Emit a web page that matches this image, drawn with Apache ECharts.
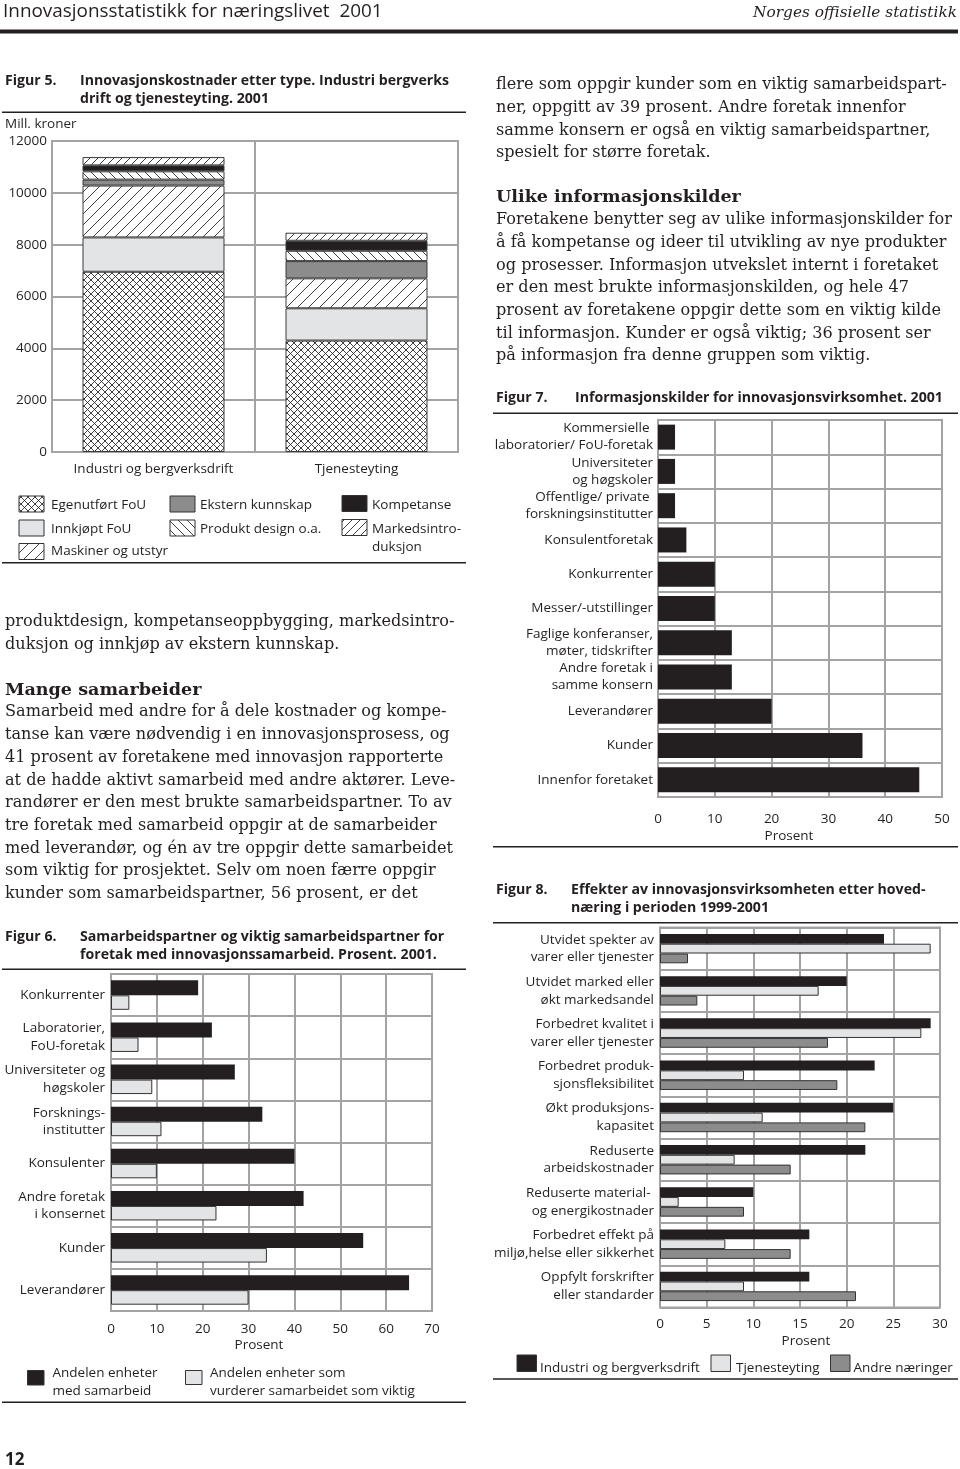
<!DOCTYPE html>
<html><head><meta charset="utf-8">
<script src="https://cdn.jsdelivr.net/npm/echarts@6/dist/echarts.min.js"></script>
<style>html,body{margin:0;padding:0;background:#fff}#c{width:960px;height:1469px}</style>
</head><body><div id="c"></div>
<script>
// ---------------- DATA ----------------
// Figur 5 (Mill. kroner)
const fig5Categories = ['Industri og bergverksdrift', 'Tjenesteyting'];
const fig5SeriesNames = ['Egenutført FoU', 'Innkjøpt FoU', 'Maskiner og utstyr', 'Ekstern kunnskap', 'Produkt design o.a.', 'Kompetanse', 'Markedsintroduksjon'];
const fig5LegendLabels = ['Egenutført FoU', 'Innkjøpt FoU', 'Maskiner og utstyr', 'Ekstern kunnskap', 'Produkt design o.a.', 'Kompetanse', 'Markedsintro-\nduksjon'];
const egenutfortFoU = [6955, 4300];
const innkjoptFoU = [1325, 1245];
const maskinerUtstyr = [2000, 1155];
const eksternKunnskap = [230, 665];
const produktDesign = [320, 400];
const kompetanse = [230, 385];
const markedsintroduksjon = [320, 310];

// Figur 6 (Prosent)
const fig6Categories = ['Konkurrenter', 'Laboratorier,\nFoU-foretak', 'Universiteter og\nhøgskoler', 'Forsknings-\ninstitutter', 'Konsulenter', 'Andre foretak\ni konsernet', 'Kunder', 'Leverandører'];
const fig6MedSamarbeid = [19, 22, 27, 33, 40, 42, 55, 65];
const fig6Viktig = [4, 6, 9, 11, 10, 23, 34, 30];
const fig6LegendLabels = ['Andelen enheter\nmed samarbeid', 'Andelen enheter som\nvurderer samarbeidet som viktig'];

// Figur 7 (Prosent)
const fig7Categories = ['Kommersielle \nlaboratorier/ FoU-foretak', 'Universiteter\nog høgskoler', 'Offentlige/ private \nforskningsinstitutter', 'Konsulentforetak', 'Konkurrenter', 'Messer/-utstillinger', 'Faglige konferanser,\nmøter, tidskrifter', 'Andre foretak i\nsamme konsern', 'Leverandører', 'Kunder', 'Innenfor foretaket'];
const fig7Values = [3, 3, 3, 5, 10, 10, 13, 13, 20, 36, 46];

// Figur 8 (Prosent)
const fig8Categories = ['Utvidet spekter av\nvarer eller tjenester', 'Utvidet marked eller\nøkt markedsandel', 'Forbedret kvalitet i\nvarer eller tjenester', 'Forbedret produk-\nsjonsfleksibilitet', 'Økt produksjons-\nkapasitet', 'Reduserte\narbeidskostnader', 'Reduserte material- \nog energikostnader', 'Forbedret effekt på\nmiljø,helse eller sikkerhet', 'Oppfylt forskrifter\neller standarder'];
const fig8Industri = [24, 20, 29, 23, 25, 22, 10, 16, 16];
const fig8Tjeneste = [29, 17, 28, 9, 11, 8, 2, 7, 9];
const fig8Andre = [3, 4, 18, 19, 22, 14, 9, 14, 21];
const fig8SeriesNames = ['Industri og bergverksdrift', 'Tjenesteyting', 'Andre næringer'];

// Texts
const headerLeft = 'Innovasjonsstatistikk for næringslivet  2001';
const headerRight = 'Norges offisielle statistikk';
const axisUnitName = 'Prosent';
const fig5Title = ['Innovasjonskostnader etter type. Industri bergverks', 'drift og tjenesteyting. 2001'];
const fig6Title = ['Samarbeidspartner og viktig samarbeidspartner for', 'foretak med innovasjonssamarbeid. Prosent. 2001.'];
const fig7Title = ['Informasjonskilder for innovasjonsvirksomhet. 2001'];
const fig8Title = ['Effekter av innovasjonsvirksomheten etter hoved-', 'næring i perioden 1999-2001'];
const leftBody1 = ['produktdesign, kompetanseoppbygging, markedsintro-', 'duksjon og innkjøp av ekstern kunnskap.'];
const leftHeading = 'Mange samarbeider';
const leftBody2 = ['Samarbeid med andre for å dele kostnader og kompe-', 'tanse kan være nødvendig i en innovasjonsprosess, og', '41 prosent av foretakene med innovasjon rapporterte', 'at de hadde aktivt samarbeid med andre aktører. Leve-', 'randører er den mest brukte samarbeidspartner. To av', 'tre foretak med samarbeid oppgir at de samarbeider', 'med leverandør, og én av tre oppgir dette samarbeidet', 'som viktig for prosjektet. Selv om noen færre oppgir', 'kunder som samarbeidspartner, 56 prosent, er det'];
const rightBody1 = ['flere som oppgir kunder som en viktig samarbeidspart-', 'ner, oppgitt av 39 prosent. Andre foretak innenfor', 'samme konsern er også en viktig samarbeidspartner,', 'spesielt for større foretak.'];
const rightHeading = 'Ulike informasjonskilder';
const rightBody2 = ['Foretakene benytter seg av ulike informasjonskilder for', 'å få kompetanse og ideer til utvikling av nye produkter', 'og prosesser. Informasjon utvekslet internt i foretaket', 'er den mest brukte informasjonskilden, og hele 47', 'prosent av foretakene oppgir dette som en viktig kilde', 'til informasjon. Kunder er også viktig; 36 prosent ser', 'på informasjon fra denne gruppen som viktig.'];

// ---------------- STYLE ----------------
const C = '#231f20';
const GRIDC = '#a3a3a3';
const LIGHT = '#e3e4e6';
const MID = '#8c8c8c';
const SANS = '"Open Sans", "Noto Sans", sans-serif';
const SERIF = '"DejaVu Serif", serif';
const FS = 13.5;

const mctx = document.createElement('canvas').getContext('2d');
function fit(text, fam, weight, style, w) {
  mctx.font = style + ' ' + weight + ' 100px ' + fam;
  return 100 * w / mctx.measureText(text).width;
}
const hdrSize = fit(headerLeft, SANS, 400, 'normal', 380);
const hdrRSize = fit(headerRight, SERIF, 400, 'italic', 204);
const titleSize = fit(fig5Title[0], SANS, 700, 'normal', 369);
const bodySize = fit(rightBody1[0], SERIF, 400, 'normal', 451);
const headSize = fit(rightHeading, SERIF, 700, 'normal', 245);

function makePattern(size, dirs, lw) {
  const c = document.createElement('canvas');
  c.width = size; c.height = size;
  const g = c.getContext('2d');
  g.fillStyle = '#fff'; g.fillRect(0, 0, size, size);
  g.strokeStyle = '#2a2a2a'; g.lineWidth = lw;
  g.beginPath();
  dirs.forEach(function (d) {
    for (let k = -1; k <= 1; k++) {
      if (d === '/') { g.moveTo(k * size, size); g.lineTo(k * size + size, 0); }
      else { g.moveTo(k * size, 0); g.lineTo(k * size + size, size); }
    }
  });
  g.stroke();
  return { image: c, repeat: 'repeat' };
}
const fig5Fills = [
  makePattern(7, ['/', '\\'], 0.9),
  LIGHT,
  makePattern(11, ['/'], 0.9),
  MID,
  makePattern(9, ['\\'], 0.9),
  C,
  makePattern(8, ['/'], 0.9)
];
const fig5Data = [egenutfortFoU, innkjoptFoU, maskinerUtstyr, eksternKunnskap, produktDesign, kompetanse, markedsintroduksjon];

// ---------------- GRAPHIC HELPERS ----------------
const G = [];
function txt(text, x, y, size, opts) {
  opts = opts || {};
  const fam = opts.fam || SANS, weight = opts.weight || 'normal', style = opts.style || 'normal';
  G.push({
    type: 'text', silent: true, z: 10,
    style: {
      text: text, x: x, y: y,
      font: style + ' ' + weight + ' ' + size.toFixed(2) + 'px ' + fam,
      fill: opts.fill || C,
      textAlign: opts.align || 'left', align: opts.align || 'left',
      textVerticalAlign: 'middle', verticalAlign: 'middle',
      lineHeight: opts.lh || size * 1.3
    }
  });
}
function hline(x1, x2, y, w) {
  G.push({ type: 'rect', silent: true, z: 10, shape: { x: x1, y: y - w / 2, width: x2 - x1, height: w }, style: { fill: C } });
}
function box(x, y, w, h, fill) {
  G.push({ type: 'rect', silent: true, z: 10, shape: { x: x, y: y, width: w, height: h }, style: { fill: fill, stroke: '#333', lineWidth: 1 } });
}

// Header
txt(headerLeft, 3, 12, hdrSize);
txt(headerRight, 957, 13, hdrRSize, { fam: SERIF, style: 'italic', align: 'right' });
hline(0, 958, 31.5, 4);

// Figure titles
function figTitle(label, lines, x0, x1, y) {
  txt(label, x0, y, titleSize, { weight: 'bold' });
  lines.forEach(function (l, i) { txt(l, x1, y + i * 18, titleSize, { weight: 'bold' }); });
}
figTitle('Figur 5.', fig5Title, 5, 80, 80.5);
hline(2, 466, 112.3, 1.4);
txt('Mill. kroner', 5, 124, FS);
hline(2, 466, 562.7, 1.4);

figTitle('Figur 6.', fig6Title, 5, 80, 937);
hline(2, 466, 969.3, 1.4);
hline(2, 466, 1402.3, 1.4);
txt(axisUnitName, 259, 1345, FS, { align: 'center' });

figTitle('Figur 7.', fig7Title, 496, 575, 398);
hline(493, 958, 413.3, 1.4);
hline(493, 958, 846.7, 1.4);
txt(axisUnitName, 789, 836, FS, { align: 'center' });

figTitle('Figur 8.', fig8Title, 496, 571, 890);
hline(493, 958, 922.7, 1.4);
hline(493, 958, 1379, 1.4);
txt(axisUnitName, 806, 1341, FS, { align: 'center' });

// Body text
const LS = 22.7;
leftBody1.forEach(function (l, i) { txt(l, 5, 622 + i * LS, bodySize, { fam: SERIF }); });
txt(leftHeading, 5, 690, headSize, { fam: SERIF, weight: 'bold' });
leftBody2.forEach(function (l, i) { txt(l, 5, 712.3 + i * LS, bodySize, { fam: SERIF }); });
rightBody1.forEach(function (l, i) { txt(l, 496, 85 + i * LS, bodySize, { fam: SERIF }); });
txt(rightHeading, 496, 197.5, headSize, { fam: SERIF, weight: 'bold' });
rightBody2.forEach(function (l, i) { txt(l, 496, 220 + i * LS, bodySize, { fam: SERIF }); });

// Page number
txt('12', 5, 1460, 17, { weight: 'bold' });

// Legend fig 5
const f5LegendPos = [[19, 496, 51, 505.5], [19, 520, 51, 529.5], [19, 543.5, 51, 551.5], [170, 496, 200, 505.5], [170, 520, 200, 529.5], [342, 495.5, 372, 505], [342, 519.5, 372, 538]];
f5LegendPos.forEach(function (p, i) {
  box(p[0], p[1], 25, 16, fig5Fills[i]);
  txt(fig5LegendLabels[i], p[2], p[3], FS, { lh: 17.5 });
});
// Legend fig 6
box(27.5, 1370.5, 16.5, 14.5, C);
txt(fig6LegendLabels[0], 52.5, 1382.5, FS, { lh: 18 });
box(185.5, 1370.5, 16.5, 14, LIGHT);
txt(fig6LegendLabels[1], 210, 1382.5, FS, { lh: 18 });
// Legend fig 8
const f8Fills = [C, LIGHT, MID];
const f8Pos = [[517, 540], [711, 736], [830.5, 853.5]];
f8Pos.forEach(function (p, i) {
  box(p[0], 1355, 19.5, 16.5, f8Fills[i]);
  txt(fig8SeriesNames[i], p[1], 1368, FS);
});

// ---------------- CHART ----------------
const plain = function (v) { return String(v); };
const lab = function (margin) { return { margin: margin, fontSize: FS, fontFamily: SANS, color: C, interval: 0, lineHeight: 17.5 }; };
const numLab = function (margin) { return Object.assign(lab(margin), { formatter: plain }); };
const split = { show: true, interval: 0, lineStyle: { color: GRIDC, width: 2, type: 'solid' } };
const noLine = { show: false };
const noTick = { show: false };
const gridBase = { show: true, borderColor: GRIDC, borderWidth: 2, backgroundColor: 'transparent', outerBoundsMode: 'none', containLabel: false };

const series = [];
fig5SeriesNames.forEach(function (n, i) {
  series.push({
    name: n, type: 'bar', xAxisIndex: 0, yAxisIndex: 0, stack: 'f5', barWidth: 142,
    data: fig5Data[i],
    itemStyle: { color: fig5Fills[i], borderColor: '#3a3a3a', borderWidth: 1 }
  });
});
series.push({ name: fig6LegendLabels[0], type: 'bar', xAxisIndex: 1, yAxisIndex: 1, barWidth: 15, barGap: '0%', data: fig6MedSamarbeid, itemStyle: { color: C } });
series.push({ name: fig6LegendLabels[1], type: 'bar', xAxisIndex: 1, yAxisIndex: 1, barWidth: 14.5, barGap: '0%', data: fig6Viktig, itemStyle: { color: LIGHT, borderColor: '#333', borderWidth: 1 } });
series.push({ name: 'Informasjonskilder', type: 'bar', xAxisIndex: 2, yAxisIndex: 2, barWidth: 25, data: fig7Values, itemStyle: { color: C } });
[fig8Industri, fig8Tjeneste, fig8Andre].forEach(function (d, i) {
  series.push({ name: fig8SeriesNames[i], type: 'bar', xAxisIndex: 3, yAxisIndex: 3, barWidth: 9.8, barGap: '0%', data: d,
    itemStyle: i === 0 ? { color: C } : { color: f8Fills[i], borderColor: '#333', borderWidth: 1 } });
});

const option = {
  animation: false,
  backgroundColor: '#fff',
  textStyle: { fontFamily: SANS },
  grid: [
    Object.assign({ left: 52, top: 141, width: 406, height: 311 }, gridBase),
    Object.assign({ left: 111, top: 974, width: 321, height: 337 }, gridBase),
    Object.assign({ left: 658, top: 420, width: 284, height: 377 }, gridBase),
    Object.assign({ left: 660, top: 927.5, width: 280, height: 380 }, gridBase)
  ],
  xAxis: [
    { gridIndex: 0, type: 'category', data: fig5Categories, axisLine: noLine, axisTick: noTick, axisLabel: lab(8), splitLine: split },
    { gridIndex: 1, type: 'value', min: 0, max: 70, interval: 10, axisLine: noLine, axisTick: noTick, axisLabel: numLab(9), splitLine: split },
    { gridIndex: 2, type: 'value', min: 0, max: 50, interval: 10, axisLine: noLine, axisTick: noTick, axisLabel: numLab(13), splitLine: split },
    { gridIndex: 3, type: 'value', min: 0, max: 30, interval: 5, axisLine: noLine, axisTick: noTick, axisLabel: numLab(8), splitLine: split }
  ],
  yAxis: [
    { gridIndex: 0, type: 'value', min: 0, max: 12000, interval: 2000, axisLine: noLine, axisTick: noTick, axisLabel: numLab(5), splitLine: split },
    { gridIndex: 1, type: 'category', inverse: true, data: fig6Categories, axisLine: noLine, axisTick: noTick, axisLabel: lab(6), splitLine: split },
    { gridIndex: 2, type: 'category', inverse: true, data: fig7Categories, axisLine: noLine, axisTick: noTick, axisLabel: Object.assign(lab(5), { lineHeight: 17 }), splitLine: split },
    { gridIndex: 3, type: 'category', inverse: true, data: fig8Categories, axisLine: noLine, axisTick: noTick, axisLabel: Object.assign(lab(6), { lineHeight: 17.7 }), splitLine: split }
  ],
  series: series,
  graphic: { elements: G }
};
const chart = echarts.init(document.getElementById('c'), null, { renderer: 'canvas', width: 960, height: 1469 });
chart.setOption(option);
</script>
</body></html>
